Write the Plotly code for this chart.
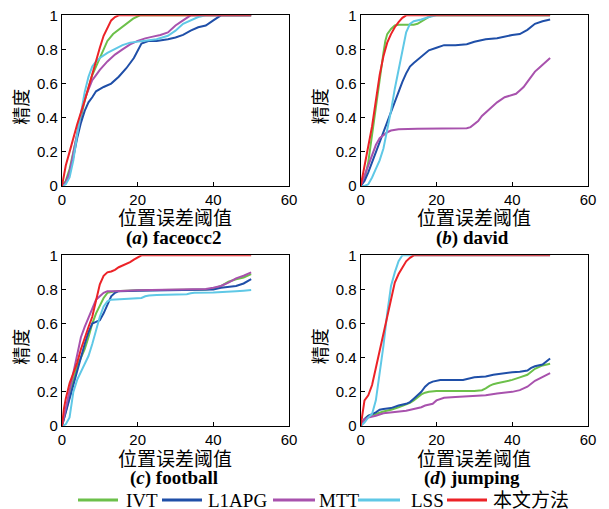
import plotly.graph_objects as go

# The page body keeps the browser's 8 px default margin, so the figure is made
# 8 px smaller and all pixel positions below are given in window pixels.
OFF = 8
W, H = 609 - OFF, 509 - OFF

METHODS = ["IVT", "L1APG", "MTT", "LSS", "本文方法"]
COLORS = ["#6cc04a", "#1f4fa8", "#a852ad", "#5fc8e6", "#ec2227"]
CAPTIONS = ["(<i>a</i>) faceocc2", "(<i>b</i>) david", "(<i>c</i>) football", "(<i>d</i>) jumping"]
X_TICKS = [0, 20, 40, 60]
Y_TICKS = [0, 0.2, 0.4, 0.6, 0.8, 1]

# ---- (a) faceocc2 ----
A_IVT_X = [0, 1, 2, 3, 4, 6, 8, 10, 11, 12, 13.5, 16, 18.8, 20.6, 50]
A_IVT_Y = [0, 0.03, 0.1, 0.2, 0.3, 0.5, 0.65, 0.75, 0.8, 0.85, 0.89, 0.93, 0.98, 1, 1]
A_L1_X = [0, 1, 2, 3, 4, 5, 6, 7, 8, 9, 11, 13, 15, 17, 19, 20, 21, 23, 25, 28, 30, 32, 34, 36, 38, 40, 42, 50]
A_L1_Y = [0, 0.02, 0.08, 0.17, 0.28, 0.37, 0.44, 0.49, 0.52, 0.555, 0.58, 0.6, 0.64, 0.69, 0.75, 0.79, 0.835, 0.85, 0.85, 0.86, 0.87, 0.885, 0.91, 0.93, 0.94, 0.97, 1.0, 1.0]
A_MTT_X = [0, 1, 2, 3, 4, 5, 6, 7, 8, 9, 10, 12, 14, 16, 18, 20, 22, 24, 26, 28, 30, 32, 34, 50]
A_MTT_Y = [0, 0.02, 0.08, 0.2, 0.32, 0.42, 0.51, 0.57, 0.62, 0.65, 0.68, 0.73, 0.77, 0.8, 0.83, 0.85, 0.865, 0.875, 0.885, 0.9, 0.94, 0.97, 1, 1]
A_LSS_X = [0, 1, 2, 3, 4, 5, 6, 7, 8, 9, 10, 12, 14, 16, 18, 20, 22, 25, 28, 30, 32, 34, 36, 38, 50]
A_LSS_Y = [0, 0.01, 0.05, 0.15, 0.3, 0.43, 0.55, 0.64, 0.7, 0.73, 0.75, 0.78, 0.805, 0.825, 0.84, 0.845, 0.85, 0.86, 0.88, 0.91, 0.95, 0.97, 0.99, 1, 1]
A_OURS_X = [0, 1, 2, 4, 6, 8, 9, 10, 11, 12, 13, 14, 15, 50]
A_OURS_Y = [0, 0.12, 0.2, 0.36, 0.5, 0.66, 0.74, 0.81, 0.88, 0.93, 0.97, 0.99, 1.0, 1.0]

# ---- (b) david ----
B_IVT_X = [0, 1, 2, 3, 4, 5, 6, 6.5, 7, 8, 9, 10, 12, 14, 15, 16, 17, 18, 19, 50]
B_IVT_Y = [0, 0.04, 0.14, 0.3, 0.48, 0.65, 0.78, 0.85, 0.89, 0.92, 0.94, 0.945, 0.945, 0.945, 0.95, 0.965, 0.98, 0.99, 1, 1]
B_L1_X = [0, 1, 2, 3, 4, 5, 6, 7, 8, 9, 10, 11, 12, 13, 14, 16, 18, 20, 22, 25, 28, 30, 33, 36, 38, 40, 42, 44, 46, 48, 50]
B_L1_Y = [0, 0.03, 0.08, 0.14, 0.2, 0.26, 0.32, 0.38, 0.44, 0.5, 0.56, 0.61, 0.66, 0.7, 0.72, 0.76, 0.795, 0.81, 0.825, 0.825, 0.83, 0.845, 0.86, 0.865, 0.875, 0.885, 0.89, 0.915, 0.95, 0.965, 0.975]
B_MTT_X = [0, 1, 2, 3, 4, 5, 6, 7, 8, 9, 10, 15, 20, 25, 28, 29, 30, 31, 32, 33, 34, 35, 36, 38, 40, 41, 42, 43, 44, 45, 46, 47, 48, 49, 50]
B_MTT_Y = [0, 0.06, 0.13, 0.19, 0.24, 0.28, 0.3, 0.315, 0.325, 0.33, 0.333, 0.335, 0.335, 0.335, 0.338, 0.345, 0.36, 0.38, 0.41, 0.43, 0.455, 0.475, 0.49, 0.52, 0.535, 0.54, 0.56, 0.58, 0.61, 0.64, 0.67, 0.69, 0.71, 0.73, 0.75]
B_LSS_X = [0, 1, 2, 3, 4, 5, 6, 7, 8, 9, 10, 11, 12, 13, 14, 16, 18, 20, 50]
B_LSS_Y = [0, 0, 0.01, 0.05, 0.1, 0.15, 0.22, 0.32, 0.44, 0.57, 0.68, 0.8, 0.9, 0.95, 0.965, 0.975, 0.99, 1, 1]
B_OURS_X = [0, 1, 2, 3, 4, 5, 6, 7, 8, 9, 10, 11, 12, 50]
B_OURS_Y = [0, 0.12, 0.22, 0.35, 0.5, 0.65, 0.76, 0.84, 0.89, 0.93, 0.96, 0.985, 1, 1]

# ---- (c) football ----
C_IVT_X = [0, 1, 2, 3, 4, 5, 6, 7, 8, 9, 10, 11, 12, 13, 14, 20, 30, 38, 40, 42, 44, 46, 48, 50]
C_IVT_Y = [0, 0.08, 0.17, 0.27, 0.35, 0.4, 0.45, 0.52, 0.6, 0.66, 0.71, 0.75, 0.78, 0.785, 0.79, 0.795, 0.797, 0.8, 0.805, 0.82, 0.845, 0.86, 0.87, 0.89]
C_L1_X = [0, 1, 2, 3, 4, 5, 6, 7, 8, 9, 10, 11, 12, 13, 14, 15, 20, 30, 40, 42, 44, 46, 48, 50]
C_L1_Y = [0, 0.08, 0.17, 0.25, 0.33, 0.41, 0.48, 0.55, 0.6, 0.61, 0.62, 0.66, 0.71, 0.76, 0.78, 0.79, 0.793, 0.797, 0.8, 0.81, 0.815, 0.82, 0.835, 0.86]
C_MTT_X = [0, 1, 2, 3, 4, 5, 6, 7, 8, 9, 10, 11, 12, 14, 20, 30, 36, 38, 40, 42, 44, 46, 48, 50]
C_MTT_Y = [0, 0.1, 0.2, 0.32, 0.42, 0.52, 0.58, 0.63, 0.69, 0.74, 0.76, 0.78, 0.79, 0.79, 0.795, 0.797, 0.8, 0.802, 0.81, 0.82, 0.84, 0.865, 0.88, 0.9]
C_LSS_X = [0, 1, 2, 3, 4, 5, 6, 7, 8, 9, 10, 11, 12, 13, 15, 18, 21, 22, 23, 25, 30, 33, 34, 35, 40, 44, 46, 48, 50]
C_LSS_Y = [0, 0.01, 0.05, 0.2, 0.27, 0.32, 0.36, 0.41, 0.48, 0.56, 0.64, 0.7, 0.73, 0.74, 0.742, 0.745, 0.75, 0.76, 0.765, 0.768, 0.77, 0.772, 0.778, 0.78, 0.782, 0.785, 0.79, 0.793, 0.797]
C_OURS_X = [0, 0.5, 1, 2, 3, 4, 5, 6, 7, 8, 9, 10, 11, 12, 13, 14, 15, 16, 17, 18, 19, 20, 21, 50]
C_OURS_Y = [0, 0.1, 0.16, 0.25, 0.31, 0.37, 0.45, 0.52, 0.58, 0.64, 0.74, 0.83, 0.88, 0.9, 0.905, 0.915, 0.93, 0.94, 0.95, 0.96, 0.975, 0.99, 1, 1]

# ---- (d) jumping ----
D_IVT_X = [0, 1, 2, 4, 6, 8, 10, 12, 13, 14, 15, 16, 17, 18, 20, 25, 30, 32, 33, 34, 35, 36, 38, 40, 42, 44, 46, 48, 50]
D_IVT_Y = [0, 0.04, 0.06, 0.07, 0.085, 0.095, 0.11, 0.125, 0.135, 0.15, 0.17, 0.185, 0.195, 0.2, 0.205, 0.205, 0.205, 0.21, 0.22, 0.235, 0.245, 0.25, 0.26, 0.27, 0.285, 0.3, 0.335, 0.355, 0.365]
D_L1_X = [0, 1, 2, 3, 4, 5, 6, 8, 10, 12, 13, 14, 15, 16, 17, 18, 19, 20, 21, 25, 27, 30, 33, 35, 38, 40, 42, 44, 45, 46, 48, 50]
D_L1_Y = [0, 0.04, 0.06, 0.07, 0.08, 0.095, 0.1, 0.105, 0.12, 0.13, 0.14, 0.16, 0.18, 0.2, 0.23, 0.25, 0.26, 0.265, 0.27, 0.27, 0.27, 0.285, 0.29, 0.3, 0.31, 0.315, 0.318, 0.325, 0.34, 0.35, 0.36, 0.395]
D_MTT_X = [0, 1, 2, 3, 4, 6, 8, 10, 12, 14, 15, 16, 17, 18, 19, 20, 22, 25, 30, 33, 36, 38, 40, 42, 43, 44, 46, 48, 50]
D_MTT_Y = [0, 0.04, 0.05, 0.055, 0.06, 0.075, 0.08, 0.085, 0.09, 0.1, 0.105, 0.11, 0.12, 0.125, 0.13, 0.15, 0.165, 0.17, 0.175, 0.18, 0.19, 0.195, 0.2, 0.21, 0.22, 0.23, 0.265, 0.29, 0.31]
D_LSS_X = [0, 1, 2, 3, 4, 5, 6, 7, 8, 9, 10, 11, 50]
D_LSS_Y = [0, 0.02, 0.05, 0.07, 0.15, 0.3, 0.47, 0.66, 0.82, 0.9, 0.965, 1, 1]
D_OURS_X = [0, 0.5, 1, 2, 3, 4, 5, 6, 7, 8, 9, 10, 11, 12, 13, 14, 50]
D_OURS_Y = [0, 0.08, 0.15, 0.18, 0.24, 0.34, 0.44, 0.55, 0.66, 0.76, 0.84, 0.89, 0.93, 0.965, 0.985, 1, 1]

PANELS = [
    [(A_IVT_X, A_IVT_Y), (A_L1_X, A_L1_Y), (A_MTT_X, A_MTT_Y), (A_LSS_X, A_LSS_Y), (A_OURS_X, A_OURS_Y)],
    [(B_IVT_X, B_IVT_Y), (B_L1_X, B_L1_Y), (B_MTT_X, B_MTT_Y), (B_LSS_X, B_LSS_Y), (B_OURS_X, B_OURS_Y)],
    [(C_IVT_X, C_IVT_Y), (C_L1_X, C_L1_Y), (C_MTT_X, C_MTT_Y), (C_LSS_X, C_LSS_Y), (C_OURS_X, C_OURS_Y)],
    [(D_IVT_X, D_IVT_Y), (D_L1_X, D_L1_Y), (D_MTT_X, D_MTT_Y), (D_LSS_X, D_LSS_Y), (D_OURS_X, D_OURS_Y)],
]


def px(x):
    return (x - OFF) / W


def py(y):
    return 1 - (y - OFF) / H


# window-pixel boxes of the plotting areas: (left, right, top, bottom)
BOXES = [(62, 289, 15.3, 186), (360.7, 588, 15.3, 186),
         (62, 289, 255.3, 426), (360.7, 588, 255.3, 426)]

fig = go.Figure()
for p, series in enumerate(PANELS):
    sfx = "" if p == 0 else str(p + 1)
    for m, (xs, ys) in enumerate(series):
        fig.add_trace(go.Scatter(
            x=xs, y=ys, mode="lines", name=METHODS[m],
            line=dict(color=COLORS[m], width=2),
            xaxis="x" + sfx, yaxis="y" + sfx, showlegend=False,
        ))

tickfont = dict(family="Liberation Sans, Arial", size=15, color="black")
layout = dict(
    width=W, height=H, margin=dict(l=0, r=0, t=0, b=0, autoexpand=False),
    paper_bgcolor="white", plot_bgcolor="white", showlegend=False,
)
annotations = []
shapes = []
cjk = "Noto Sans CJK SC"
for p, (l, r, t, b) in enumerate(BOXES):
    sfx = "" if p == 0 else str(p + 1)
    common = dict(showgrid=False, zeroline=False, showline=True, linecolor="black", linewidth=1.3,
                  mirror=True, ticks="inside", ticklen=4, tickcolor="black", tickfont=tickfont,
                  automargin=False, ticklabeloverflow="allow")
    layout["xaxis" + sfx] = dict(domain=[px(l), px(r)], anchor="y" + sfx, range=[0, 60],
                                 tickvals=X_TICKS, **common)
    layout["yaxis" + sfx] = dict(domain=[py(b), py(t)], anchor="x" + sfx, range=[0, 1],
                                 tickvals=Y_TICKS, **common)
    cx = (l + r) / 2
    annotations.append(dict(text="位置误差阈值", x=px(cx), y=py(b + 31), xref="paper", yref="paper",
                            showarrow=False, xanchor="center", yanchor="middle",
                            font=dict(family=cjk, size=19, color="black")))
    annotations.append(dict(text="精度", x=px(l - 42), y=py((t + b) / 2 + 6), xref="paper", yref="paper",
                            showarrow=False, xanchor="center", yanchor="middle", textangle=-90,
                            font=dict(family=cjk, size=18, color="black")))
    annotations.append(dict(text="<b>" + CAPTIONS[p] + "</b>", x=px(cx - 2), y=py(b + 52), xref="paper", yref="paper",
                            showarrow=False, xanchor="center", yanchor="middle",
                            font=dict(family="Liberation Serif", size=19, color="black")))

# hand-placed legend key (line sample + label) at the bottom
LEG_LINE_X = [(78, 118), (162, 202), (273, 315), (358, 400), (447, 487)]
LEG_TEXT_X = [124, 206, 317, 409, 491]
LEG_Y = 500
for m in range(len(METHODS)):
    x0, x1 = LEG_LINE_X[m]
    shapes.append(dict(type="line", xref="paper", yref="paper", x0=px(x0), x1=px(x1),
                       y0=py(LEG_Y), y1=py(LEG_Y), line=dict(color=COLORS[m], width=3)))
    annotations.append(dict(text=METHODS[m], x=px(LEG_TEXT_X[m]), y=py(LEG_Y), xref="paper", yref="paper",
                            showarrow=False, xanchor="left", yanchor="middle",
                            font=dict(family="Liberation Serif, Noto Sans CJK SC", size=19, color="black")))

layout["annotations"] = annotations
layout["shapes"] = shapes
fig.update_layout(**layout)
fig.write_html("out.html")
